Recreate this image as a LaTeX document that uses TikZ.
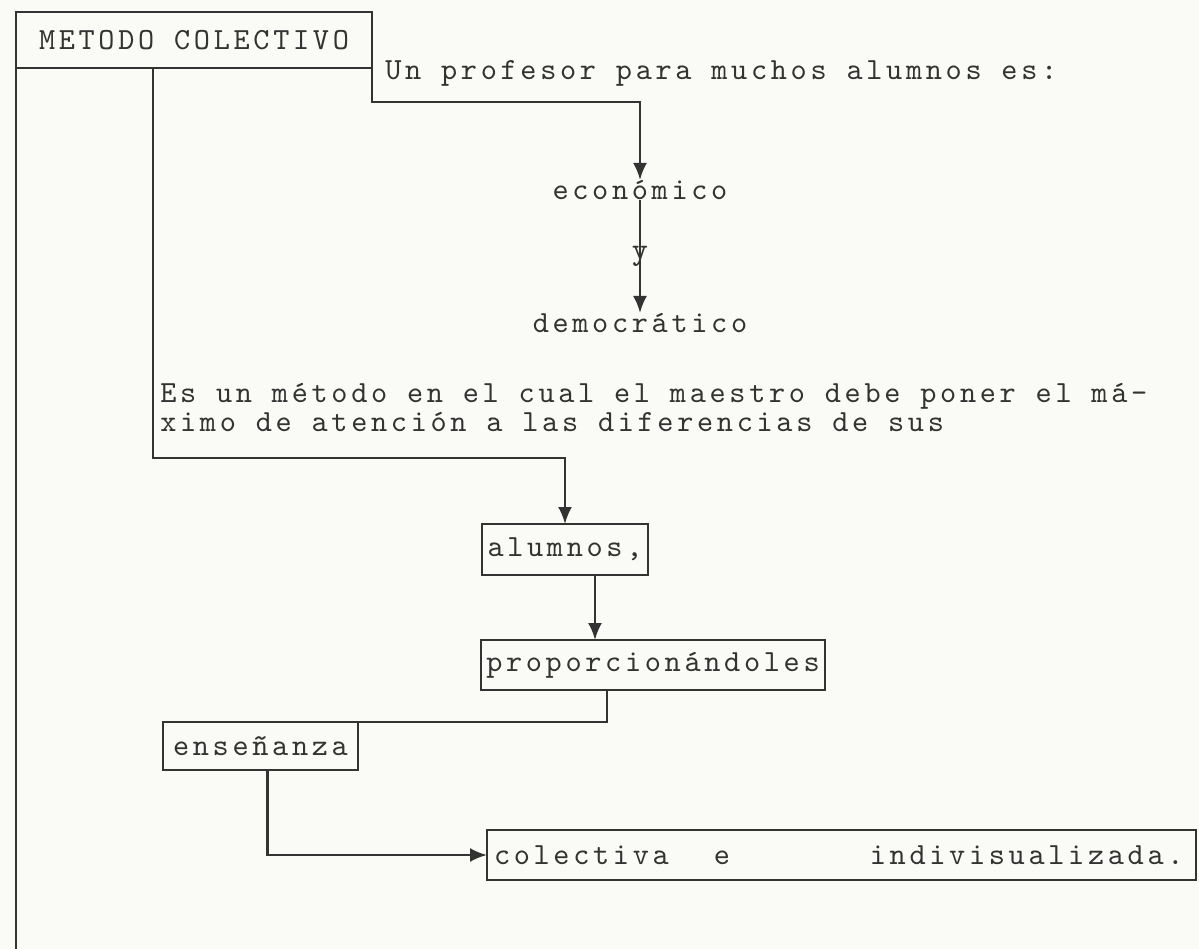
\documentclass[tikz,border=0pt]{standalone}
\usepackage{fontspec}
\setmonofont[LetterSpace=12]{lmmono10-regular.otf}
\usetikzlibrary{arrows.meta,positioning,calc}
\definecolor{tinta}{HTML}{333333}
\definecolor{papel}{HTML}{FAFAF7}

\begin{document}
\begin{tikzpicture}[x=0.02cm,y=-0.02cm,
    maquina/.style={font=\ttfamily\fontsize{17.5}{16.5}\selectfont,text=tinta},
    caja/.style={maquina,draw=tinta,line width=1.4pt,inner sep=3pt,outer sep=0pt,anchor=north west},
    texto/.style={maquina,inner sep=0pt},
    linea/.style={draw=tinta,line width=1.4pt},
    flecha/.style={linea,-{Latex[length=3.4mm,width=2.8mm]}}]
    \useasboundingbox (0,0) rectangle (1199,949);
    \fill[papel] (0,0) rectangle (1199,949);
    % cajas
    \node[caja,minimum width=7.12cm,minimum height=1.12cm] (titulo) at (16,12) {METODO COLECTIVO};
    \node[caja,minimum width=3.32cm,minimum height=1.02cm] (alumnos) at (482,524) {alumnos,};
    \node[caja,minimum width=6.8cm,minimum height=1.0cm] (proporc) at (481,640) {proporcionándoles};
    \node[caja,minimum width=3.9cm,minimum height=0.96cm] (ensenanza) at (163,722) {enseñanza};
    \node[caja,minimum width=14.18cm,minimum height=1.0cm,text width=13.9cm,align=left] (colectiva) at (487,830)
        {colectiva\hspace{0.9cm}e\hspace{2.8cm}indivisualizada.};
    % textos sueltos
    \node[texto,anchor=west] (profesor) at (385,73) {Un profesor para muchos alumnos es:};
    \node[texto] (economico) at (640,190) {económico};
    \node[texto] (democratico) at (640,323) {democrático};
    \node[texto,anchor=north west,align=left] (metodo) at (160,383)
        {Es un método en el cual el maestro debe poner el má-\\ximo de atención a las diferencias de sus};
    % conectores
    \coordinate (c1) at (titulo.south east |- 0,102);
    \coordinate (c2) at (153,458);
    \coordinate (fin) at (titulo.south west |- 0,949);
    \draw[linea] (titulo.south west) -- (fin);
    \draw[flecha] (titulo.south east) -- (c1) -| (economico.north);
    \draw[flecha] (economico) -- node[texto] {y} (democratico);
    \draw[flecha] (titulo.south -| c2) -- (c2) -| (alumnos.north);
    \draw[flecha] ([xshift=0.6cm]alumnos.south) -- ([xshift=0.6cm]alumnos.south |- proporc.north);
    \draw[linea] ([xshift=-0.92cm]proporc.south) |- (ensenanza.north east);
    \draw[flecha] ([xshift=0.14cm]ensenanza.south) |- (colectiva.west);
\end{tikzpicture}
\end{document}
